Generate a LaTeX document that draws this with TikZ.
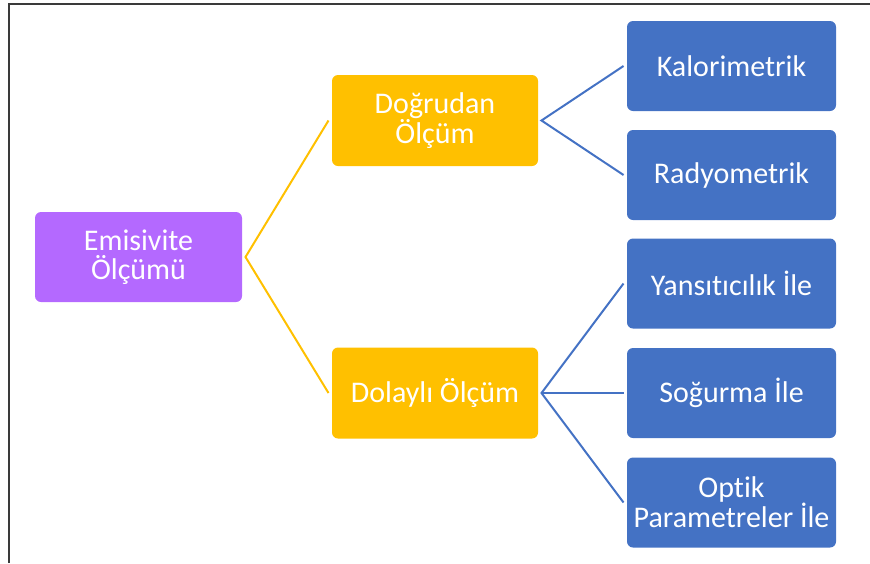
\documentclass[tikz,border=0pt]{standalone}
\usepackage{fontspec}
\setmainfont[Ligatures=NoCommon]{Carlito}
\usepackage{xcolor}
\usepackage{tikz}

\definecolor{emismor}{HTML}{B469FF}
\definecolor{olcsari}{HTML}{FFC000}
\definecolor{yontmavi}{HTML}{4472C4}
\definecolor{cerceve}{HTML}{3A3A3A}

\tikzset{
  kutu/.style={rounded corners=6pt,align=center,text=white,inner sep=0pt,outer sep=3.5pt,
    font=\fontsize{30}{29}\selectfont},
  anakutu/.style={kutu,fill=emismor,minimum width=207pt,minimum height=90pt},
  olckutu/.style={kutu,fill=olcsari,minimum width=206pt,minimum height=91pt},
  yontkutu/.style={kutu,fill=yontmavi,minimum width=209pt,minimum height=90pt},
  sariline/.style={draw=olcsari,line width=2pt},
  maviline/.style={draw=yontmavi,line width=2pt}
}

\begin{document}
\begin{tikzpicture}[x=1pt,y=-1pt]
    \useasboundingbox (0,0) rectangle (870,563);
    % cerceve
    \draw[cerceve,line width=1.5pt] (9,563) -- (9,4) -- (870,4);

    \node[anakutu] (emis) at (138.5,257) {Emisivite\\Ölçümü};
    \node[olckutu] (dogrudan) at (435,120.5) {Doğrudan\\Ölçüm};
    \node[olckutu] (dolayli) at (435,393) {Dolaylı Ölçüm};
    \node[yontkutu] (kalori) at (731.5,66) {Kalorimetrik};
    \node[yontkutu] (radyo) at (731.5,175) {Radyometrik};
    \node[yontkutu] (yansit) at (731.5,283.5) {Yansıtıcılık İle};
    \node[yontkutu] (sogur) at (731.5,393) {Soğurma İle};
    \node[yontkutu] (optik) at (731.5,502.5) {Optik\\Parametreler İle};

    \draw[sariline] (dogrudan.west) -- (emis.east) -- (dolayli.west);
    \draw[maviline] (kalori.west) -- (dogrudan.east) -- (radyo.west);
    \draw[maviline] (yansit.west) -- (dolayli.east) -- (optik.west);
    \draw[maviline] (dolayli.east) -- (sogur.west);
\end{tikzpicture}
\end{document}
